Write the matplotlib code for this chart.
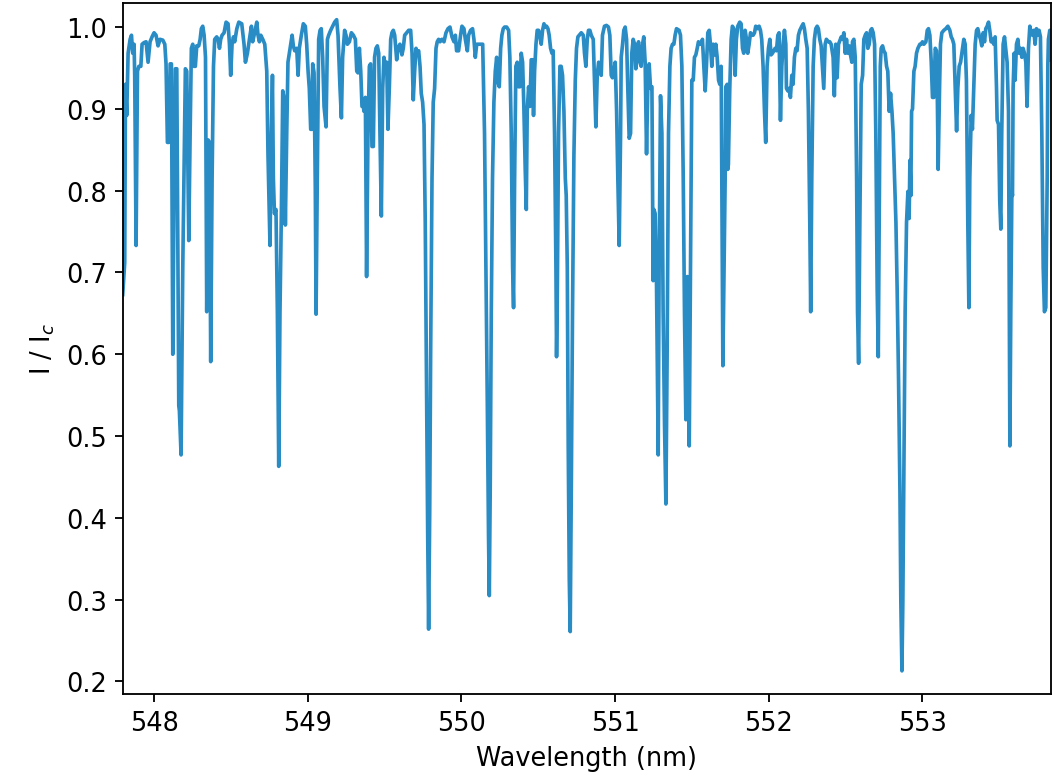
import matplotlib
matplotlib.use("Agg")
import matplotlib.pyplot as plt

plt.rcParams["font.size"] = 11.2

# normalised solar spectrum
wavelength = [
    547.794, 547.807, 547.812, 547.820, 547.829, 547.842, 547.851, 547.859, 547.868, 547.872,
    547.881, 547.890, 547.899, 547.912, 547.920, 547.933, 547.946, 547.959, 547.972, 547.985,
    547.998, 548.011, 548.024, 548.037, 548.055, 548.068, 548.076, 548.085, 548.094, 548.103,
    548.111, 548.120, 548.129, 548.137, 548.146, 548.159, 548.163, 548.174, 548.185, 548.202,
    548.211, 548.224, 548.233, 548.241, 548.250, 548.259, 548.267, 548.276, 548.289, 548.298,
    548.306, 548.315, 548.324, 548.333, 548.341, 548.350, 548.359, 548.367, 548.376, 548.385,
    548.393, 548.406, 548.415, 548.424, 548.432, 548.441, 548.454, 548.467, 548.480, 548.489,
    548.497, 548.506, 548.515, 548.523, 548.537, 548.550,
    548.569, 548.584, 548.593, 548.606, 548.619, 548.632, 548.640, 548.653, 548.667, 548.675,
    548.684, 548.693, 548.706, 548.719, 548.732, 548.740, 548.753, 548.762, 548.769, 548.775,
    548.782, 548.792, 548.801, 548.810, 548.818, 548.827, 548.836, 548.844, 548.853, 548.862,
    548.870, 548.879, 548.888, 548.897, 548.905, 548.914, 548.927, 548.936, 548.944, 548.957,
    548.970, 548.983, 548.992, 549.001, 549.009, 549.018, 549.027, 549.031, 549.040, 549.048,
    549.053, 549.061, 549.070, 549.079, 549.087, 549.096, 549.105, 549.118, 549.127, 549.135,
    549.148, 549.161, 549.174, 549.187, 549.196, 549.209, 549.218, 549.226, 549.239, 549.248,
    549.257, 549.270, 549.283, 549.296, 549.309, 549.318, 549.326, 549.335, 549.344, 549.352,
    549.361,
    549.365, 549.374, 549.382, 549.391, 549.400, 549.408, 549.417, 549.426, 549.434, 549.443,
    549.452, 549.461, 549.469, 549.478, 549.487, 549.495, 549.504, 549.513, 549.521, 549.530,
    549.539, 549.547, 549.556, 549.565, 549.578, 549.586, 549.599, 549.612, 549.621, 549.630,
    549.643, 549.656, 549.669, 549.678, 549.686, 549.695, 549.704, 549.712, 549.721, 549.730,
    549.738, 549.747, 549.756, 549.764, 549.773, 549.780, 549.786, 549.793, 549.799, 549.808,
    549.816, 549.825, 549.834, 549.842, 549.851, 549.860, 549.873, 549.886, 549.899, 549.912,
    549.925, 549.938, 549.951, 549.960, 549.968, 549.981, 549.994, 550.003, 550.016, 550.025,
    550.038, 550.046, 550.059, 550.072, 550.081, 550.090, 550.099, 550.112, 550.125, 550.138,
    550.150, 550.159, 550.168, 550.176, 550.181, 550.187, 550.194, 550.202, 550.211, 550.220,
    550.229, 550.237, 550.246, 550.255, 550.263, 550.272, 550.281, 550.294, 550.307, 550.315,
    550.324, 550.333, 550.339, 550.346, 550.354, 550.363, 550.372, 550.380, 550.389, 550.398,
    550.406, 550.415, 550.422, 550.428, 550.437, 550.446, 550.454, 550.463, 550.469, 550.476,
    550.485, 550.493, 550.502, 550.511, 550.519, 550.528, 550.537, 550.545, 550.554, 550.563,
    550.571, 550.580, 550.589, 550.597, 550.606, 550.615, 550.619, 550.623, 550.632, 550.641,
    550.649, 550.658, 550.667, 550.676, 550.682, 550.689, 550.695, 550.702, 550.708, 550.715,
    550.723, 550.732, 550.741, 550.749, 550.758, 550.767, 550.780, 550.793, 550.801, 550.810,
    550.819, 550.827, 550.836, 550.845, 550.858, 550.866, 550.875, 550.884, 550.893,
    550.910, 550.918, 550.931, 550.944, 550.957, 550.966, 550.975, 550.983, 550.992, 551.001,
    551.010, 551.018, 551.027, 551.036, 551.040, 551.049, 551.057, 551.066, 551.075, 551.083,
    551.092, 551.101, 551.109, 551.118, 551.127, 551.135, 551.144, 551.153, 551.161, 551.170,
    551.179, 551.187, 551.196, 551.205, 551.213, 551.222, 551.231, 551.240, 551.248, 551.253,
    551.261, 551.270, 551.281, 551.287, 551.296, 551.305, 551.313, 551.322, 551.331, 551.339,
    551.348, 551.357, 551.365, 551.374, 551.383, 551.391, 551.400, 551.409, 551.417, 551.426,
    551.435, 551.444, 551.452, 551.461, 551.470, 551.476, 551.483, 551.491, 551.500, 551.509,
    551.517, 551.526, 551.535, 551.543, 551.552, 551.561, 551.569, 551.578, 551.587, 551.595,
    551.604, 551.613, 551.621, 551.630, 551.639, 551.647, 551.656, 551.665, 551.674, 551.682,
    551.691, 551.702,
    551.717, 551.721, 551.730, 551.734, 551.738, 551.747, 551.756, 551.764, 551.773, 551.782,
    551.790, 551.799, 551.812, 551.821, 551.830, 551.838, 551.847, 551.856, 551.864, 551.873,
    551.882, 551.890, 551.899, 551.908, 551.916, 551.929, 551.938, 551.947, 551.955, 551.964,
    551.973, 551.981, 551.990, 551.999, 552.008, 552.016, 552.025, 552.034, 552.042, 552.051,
    552.060, 552.068, 552.077, 552.086, 552.094, 552.103, 552.112, 552.116, 552.125, 552.133,
    552.142, 552.151, 552.159, 552.168, 552.177, 552.185, 552.194, 552.203, 552.216, 552.225,
    552.233, 552.242, 552.251, 552.259, 552.268, 552.274, 552.281, 552.290, 552.298, 552.307,
    552.316, 552.324, 552.333, 552.342, 552.350, 552.359, 552.368, 552.376, 552.389, 552.398,
    552.407, 552.420, 552.428, 552.437, 552.446, 552.455,
    552.473, 552.481, 552.490, 552.499, 552.507, 552.516, 552.525, 552.533, 552.542, 552.546,
    552.555, 552.564, 552.573, 552.579, 552.586, 552.594, 552.603, 552.612, 552.620, 552.629,
    552.638, 552.646, 552.655, 552.664, 552.672, 552.681, 552.690, 552.698, 552.707, 552.714,
    552.720, 552.727, 552.733, 552.742, 552.750, 552.759, 552.768, 552.776, 552.785, 552.794,
    552.803, 552.811, 552.820, 552.829, 552.837, 552.846, 552.855, 552.861, 552.868, 552.874,
    552.881, 552.889, 552.898, 552.907, 552.915, 552.920, 552.926, 552.931, 552.937, 552.946,
    552.954, 552.963, 552.972, 552.985, 552.993, 553.002, 553.011, 553.024, 553.033, 553.041,
    553.050, 553.059, 553.067, 553.076, 553.085, 553.093, 553.098, 553.104, 553.113, 553.119,
    553.128, 553.141, 553.154, 553.167, 553.180, 553.189, 553.197, 553.206, 553.215, 553.224,
    553.232, 553.241, 553.250, 553.258,
    553.271, 553.280, 553.288, 553.297, 553.304, 553.310, 553.319, 553.327, 553.336, 553.345,
    553.354, 553.362, 553.371, 553.380, 553.388, 553.397, 553.406, 553.414, 553.423, 553.432,
    553.440, 553.449, 553.458, 553.466, 553.475, 553.484, 553.488, 553.497, 553.505, 553.512,
    553.518, 553.527, 553.536, 553.544, 553.553, 553.562, 553.566, 553.571, 553.577, 553.584,
    553.588, 553.592, 553.599, 553.605, 553.614, 553.623, 553.631, 553.640, 553.649, 553.657,
    553.666, 553.675, 553.683, 553.692, 553.701, 553.709, 553.718, 553.727, 553.735, 553.744,
    553.753, 553.761, 553.770, 553.779, 553.788, 553.796, 553.805, 553.814, 553.818, 553.822,
    553.831, 553.836,
]

intensity = [
    0.673, 0.712, 0.930, 0.892, 0.968, 0.985, 0.990, 0.968, 0.979, 0.941,
    0.733, 0.946, 0.952, 0.952, 0.979, 0.981, 0.982, 0.957, 0.982, 0.988,
    0.993, 0.990, 0.977, 0.985, 0.984, 0.979, 0.955, 0.859, 0.859, 0.955,
    0.955, 0.600, 0.815, 0.949, 0.949, 0.537, 0.531, 0.477, 0.706, 0.949,
    0.946, 0.739, 0.870, 0.974, 0.979, 0.952, 0.952, 0.977, 0.977, 0.985,
    0.998, 1.001, 0.990, 0.963, 0.652, 0.862, 0.859, 0.591, 0.815, 0.952,
    0.985, 0.988, 0.985, 0.974, 0.985, 0.990, 0.993, 1.006, 1.004, 0.979,
    0.941, 0.979, 0.988, 0.982, 0.998, 1.006,
    1.004, 0.979, 0.957, 0.968, 0.985, 1.001, 0.982, 0.993, 1.006, 0.990,
    0.982, 0.990, 0.985, 0.979, 0.946, 0.843, 0.733, 0.870, 0.941, 0.815,
    0.772, 0.777, 0.652, 0.463, 0.652, 0.772, 0.922, 0.914, 0.758, 0.870,
    0.957, 0.968, 0.979, 0.990, 0.977, 0.971, 0.974, 0.941, 0.974, 0.990,
    1.004, 1.001, 0.979, 0.946, 0.925, 0.875, 0.875, 0.955, 0.944, 0.804,
    0.649, 0.815, 0.985, 0.996, 0.998, 0.963, 0.903, 0.878, 0.985, 0.990,
    0.996, 1.001, 1.006, 1.009, 0.990, 0.925, 0.889, 0.963, 0.996, 0.990,
    0.979, 0.982, 0.993, 0.990, 0.985, 0.946, 0.944, 0.974, 0.946, 0.903,
    0.903,
    0.897, 0.914, 0.695, 0.870, 0.952, 0.955, 0.854, 0.854, 0.963, 0.974,
    0.977, 0.968, 0.870, 0.769, 0.925, 0.963, 0.952, 0.957, 0.875, 0.925,
    0.985, 0.993, 0.996, 0.990, 0.960, 0.974, 0.979, 0.966, 0.974, 0.990,
    0.993, 0.996, 0.996, 0.968, 0.911, 0.946, 0.974, 0.968, 0.971, 0.952,
    0.919, 0.908, 0.881, 0.761, 0.542, 0.378, 0.264, 0.406, 0.597, 0.815,
    0.908, 0.925, 0.974, 0.982, 0.985, 0.982, 0.985, 0.982, 0.993, 0.998,
    1.000, 0.988, 0.982, 0.990, 0.971, 0.971, 0.990, 1.001, 0.998, 0.985,
    0.971, 0.990, 0.996, 0.998, 0.985, 0.963, 0.979, 0.979, 0.979, 0.979,
    0.870, 0.706, 0.542, 0.378, 0.305, 0.433, 0.652, 0.815, 0.908, 0.946,
    0.963, 0.933, 0.927, 0.974, 0.990, 0.998, 1.000, 1.000, 0.996, 0.963,
    0.870, 0.706, 0.657, 0.815, 0.952, 0.957, 0.927, 0.927, 0.968, 0.957,
    0.903, 0.826, 0.777, 0.897, 0.927, 0.903, 0.960, 0.960, 0.892, 0.946,
    0.979, 0.996, 0.996, 0.988, 0.979, 0.996, 1.004, 1.000, 1.001, 0.998,
    0.990, 0.974, 0.968, 0.971, 0.870, 0.706, 0.597, 0.652, 0.870, 0.952,
    0.952, 0.941, 0.897, 0.815, 0.794, 0.706, 0.488, 0.324, 0.261, 0.433,
    0.652, 0.843, 0.935, 0.974, 0.988, 0.990, 0.993, 0.990, 0.968, 0.952,
    0.985, 0.996, 0.996, 0.990, 0.985, 0.935, 0.878, 0.941, 0.957,
    0.941, 0.990, 1.001, 1.002, 1.000, 0.990, 0.941, 0.938, 0.946, 0.957,
    0.897, 0.815, 0.733, 0.870, 0.963, 0.979, 0.996, 1.000, 0.985, 0.925,
    0.864, 0.870, 0.968, 0.985, 0.979, 0.949, 0.974, 0.982, 0.957, 0.952,
    0.979, 0.988, 0.957, 0.845, 0.925, 0.955, 0.925, 0.927, 0.690, 0.777,
    0.772, 0.684, 0.477, 0.706, 0.916, 0.870, 0.652, 0.515, 0.417, 0.597,
    0.870, 0.952, 0.974, 0.979, 0.979, 0.990, 0.998, 0.997, 0.996, 0.990,
    0.952, 0.815, 0.652, 0.520, 0.695, 0.652, 0.488, 0.706, 0.935, 0.935,
    0.963, 0.966, 0.974, 0.982, 0.979, 0.979, 0.985, 0.952, 0.922, 0.952,
    0.993, 0.996, 0.979, 0.952, 0.979, 0.966, 0.979, 0.963, 0.935, 0.930,
    0.952, 0.586,
    0.815, 0.927, 0.930, 0.826, 0.832, 0.925, 0.985, 1.001, 0.998, 0.941,
    0.985, 1.001, 1.006, 1.004, 0.974, 0.968, 0.996, 0.985, 0.968, 0.979,
    0.993, 0.990, 0.990, 0.993, 1.001, 0.998, 1.001, 0.996, 0.985, 0.952,
    0.897, 0.859, 0.952, 0.974, 0.985, 0.966, 0.968, 0.971, 0.974, 0.971,
    0.990, 0.993, 0.886, 0.952, 0.979, 0.996, 0.979, 0.925, 0.922, 0.925,
    0.914, 0.941, 0.930, 0.963, 0.974, 0.971, 0.990, 0.996, 1.001, 1.004,
    0.998, 0.985, 0.974, 0.897, 0.761, 0.652, 0.815, 0.952, 0.985, 0.998,
    1.001, 0.998, 0.985, 0.977, 0.952, 0.925, 0.979, 0.985, 0.982, 0.982,
    0.979, 0.963, 0.916, 0.979, 0.938, 0.979,
    0.988, 0.985, 0.993, 0.968, 0.985, 0.968, 0.977, 0.966, 0.957, 0.982,
    0.985, 0.963, 0.815, 0.652, 0.589, 0.761, 0.930, 0.941, 0.985, 0.990,
    0.993, 0.974, 0.979, 0.996, 0.998, 0.993, 0.979, 0.870, 0.679, 0.597,
    0.761, 0.952, 0.974, 0.977, 0.971, 0.968, 0.952, 0.946, 0.897, 0.919,
    0.897, 0.870, 0.815, 0.761, 0.679, 0.570, 0.433, 0.297, 0.213, 0.297,
    0.460, 0.652, 0.761, 0.799, 0.766, 0.837, 0.794, 0.897, 0.900, 0.946,
    0.952, 0.968, 0.974, 0.979, 0.979, 0.982, 0.979, 0.982, 0.996, 0.998,
    0.990, 0.957, 0.914, 0.914, 0.974, 0.971, 0.925, 0.826, 0.925, 0.979,
    0.993, 0.996, 0.998, 1.001, 0.996, 0.988, 0.985, 0.979, 0.925, 0.873,
    0.925, 0.952, 0.957, 0.968,
    0.985, 0.979, 0.935, 0.761, 0.657, 0.815, 0.892, 0.875, 0.925, 0.979,
    0.996, 0.998, 0.990, 0.985, 0.977, 0.993, 0.982, 0.998, 1.001, 1.006,
    0.996, 0.982, 0.985, 0.979, 0.988, 0.925, 0.886, 0.881, 0.788, 0.753,
    0.870, 0.979, 0.988, 0.974, 0.957, 0.897, 0.706, 0.488, 0.652, 0.799,
    0.794, 0.925, 0.968, 0.935, 0.979, 0.985, 0.968, 0.974, 0.963, 0.974,
    0.968, 0.957, 0.903, 0.974, 1.001, 0.993, 0.990, 0.996, 0.979, 0.998,
    0.990, 0.996, 0.988, 0.870, 0.706, 0.652, 0.657, 0.815, 0.952, 0.985,
    0.996, 0.960,
]

line_color = "#2A8CC4"

fig = plt.figure(figsize=(6.412, 4.715), dpi=165)
ax = fig.add_axes([0.116, 0.107, 0.877, 0.888])

ax.plot(wavelength, intensity, color=line_color, lw=1.6)

ax.set_xlim(547.794, 553.836)
ax.set_ylim(0.185, 1.0295)
ax.set_xticks([548, 549, 550, 551, 552, 553])
ax.set_yticks([0.2, 0.3, 0.4, 0.5, 0.6, 0.7, 0.8, 0.9, 1.0])

ax.set_xlabel("Wavelength (nm)")
ax.set_ylabel("I / I$_c$")

fig.savefig("out.png", dpi=165)
